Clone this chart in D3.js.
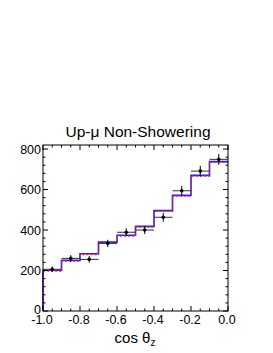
<!DOCTYPE html>
<html><head><meta charset="utf-8">
<script src="https://cdn.jsdelivr.net/npm/d3@7"></script>
<style>body{margin:0;background:#fff}svg{display:block}text{font-family:"Liberation Sans",Arial,sans-serif}</style>
</head><body>
<svg id="c" width="273" height="353"></svg>
<script>
const binEdges = [-1.0,-0.9,-0.8,-0.7,-0.6,-0.5,-0.4,-0.3,-0.2,-0.1,0.0];
const mcBlue = [201,250,283,340,374,418,496,571,670,738];
const mcRed  = [197,246,279,336,370,414,492,567,666,734];
const dataY  = [206,260,255,334,389,400,463,594,691,749];
const dataErr= [14,16,16,18,20,20,22,24,26,27];
const xTicks = [-1.0,-0.8,-0.6,-0.4,-0.2,0.0];
const yTicks = [0,200,400,600,800];

const svg = d3.select("#c");
const L=43,R=228,T=145,B=311;
const x = d3.scaleLinear().domain([-1,0]).range([L,R]);
const y = d3.scaleLinear().domain([0,820]).range([B,T]);

function stepPath(vals){
  let p = `M${x(binEdges[0])},${y(0)}`;
  vals.forEach((v,i)=>{ p += `L${x(binEdges[i])},${y(v)}L${x(binEdges[i+1])},${y(v)}`; });
  return p;
}
svg.append("path").attr("d",stepPath(mcBlue)).attr("fill","none").attr("stroke","#2020ff").attr("stroke-width",1.6);
svg.append("path").attr("d",stepPath(mcRed)).attr("fill","none").attr("stroke","#ff2020").attr("stroke-width",1.3).attr("stroke-dasharray","2,2");

const g = svg.append("g");
dataY.forEach((v,i)=>{
  const cx = x((binEdges[i]+binEdges[i+1])/2);
  g.append("line").attr("x1",x(binEdges[i])).attr("x2",x(binEdges[i+1])).attr("y1",y(v)).attr("y2",y(v)).attr("stroke","#333").attr("stroke-width",1);
  g.append("line").attr("x1",cx).attr("x2",cx).attr("y1",y(v-dataErr[i])).attr("y2",y(v+dataErr[i])).attr("stroke","#000").attr("stroke-width",1);
  g.append("circle").attr("cx",cx).attr("cy",y(v)).attr("r",1.8).attr("fill","#000");
});

svg.append("rect").attr("x",L).attr("y",T).attr("width",R-L).attr("height",B-T).attr("fill","none").attr("stroke","#000").attr("stroke-width",1);

const ax = svg.append("g").attr("stroke","#000").attr("stroke-width",1);
d3.range(0,21).forEach(k=>{
  const v=-1+k*0.05, px=x(v), len=(k%4===0)?5:2.5;
  ax.append("line").attr("x1",px).attr("x2",px).attr("y1",B).attr("y2",B-len);
  ax.append("line").attr("x1",px).attr("x2",px).attr("y1",T).attr("y2",T+len);
});
d3.range(0,21).forEach(k=>{
  const v=k*40; if(v>820) return;
  const py=y(v), len=(k%5===0)?5:2.5;
  ax.append("line").attr("x1",L).attr("x2",L+len).attr("y1",py).attr("y2",py);
  ax.append("line").attr("x1",R).attr("x2",R-len).attr("y1",py).attr("y2",py);
});

svg.selectAll(".xl").data(xTicks).enter().append("text")
  .attr("x",d=>x(d)-1).attr("y",324).attr("text-anchor","middle").attr("font-size",12.5).text(d=>d.toFixed(1));
svg.selectAll(".yl").data(yTicks).enter().append("text")
  .attr("x",41).attr("y",d=>y(d)+(d===0?3:4.5)).attr("text-anchor","end").attr("font-size",12.5).text(d=>d);

svg.append("text").attr("x",138).attr("y",137).attr("text-anchor","middle").attr("font-size",15.5).text("Up-μ Non-Showering");
const xt = svg.append("text").attr("x",135).attr("y",343).attr("text-anchor","middle").attr("font-size",15);
xt.append("tspan").text("cos θ");
xt.append("tspan").attr("font-size",10).attr("dy",3).text("z");
</script>
</body></html>
